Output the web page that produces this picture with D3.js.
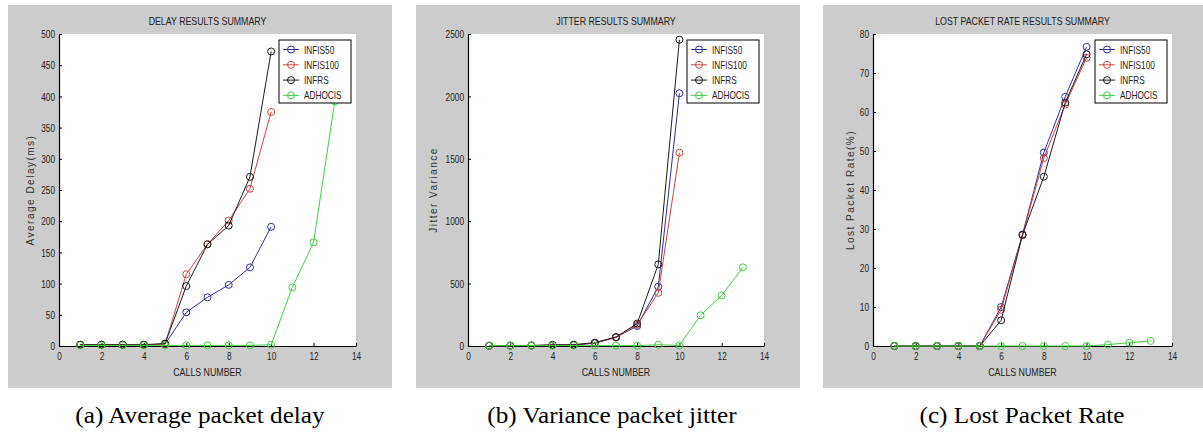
<!DOCTYPE html>
<html>
<head>
<meta charset="utf-8">
<script src="https://cdn.jsdelivr.net/npm/d3@7"></script>
<style>
  body { margin: 0; background: #fff; }
  svg { display: block; }
</style>
</head>
<body>
<div id="chart"></div>
<script>
// calls number on the x axis
const calls = [1, 2, 3, 4, 5, 6, 7, 8, 9, 10, 11, 12, 13];
const seriesNames = ['INFIS50', 'INFIS100', 'INFRS', 'ADHOCIS'];
const xTicks = [0, 2, 4, 6, 8, 10, 12, 14];

// (a) average packet delay (ms)
const delayInfis50 = [2, 2, 2, 2, 3, 54, 78, 98, 126, 191];
const delayInfis100 = [2, 2, 2, 2, 3, 115, 163, 201, 252, 375];
const delayInfrs = [2, 2, 2, 2, 4, 96, 163, 193, 271, 472];
const delayAdhocis = [1, 1, 1, 1, 1, 1, 1, 1, 1, 2, 94, 166, 392];
const delayTicks = [0, 50, 100, 150, 200, 250, 300, 350, 400, 450, 500];

// (b) jitter variance
const jitterInfis50 = [2, 3, 4, 5, 8, 22, 70, 160, 475, 2025];
const jitterInfis100 = [2, 3, 4, 6, 9, 25, 68, 170, 426, 1549];
const jitterInfrs = [2, 3, 4, 10, 10, 27, 72, 180, 654, 2454];
const jitterAdhocis = [3, 3, 3, 3, 3, 3, 3, 3, 10, 5, 246, 405, 630];
const jitterTicks = [0, 500, 1000, 1500, 2000, 2500];

// (c) lost packet rate (%)
const lostInfis50 = [0, 0, 0, 0, 0, 10.0, 28.6, 49.6, 63.9, 76.7];
const lostInfis100 = [0, 0, 0, 0, 0, 9.3, 28.4, 48.2, 61.9, 73.9];
const lostInfrs = [0, 0, 0, 0, 0, 6.6, 28.5, 43.4, 62.4, 74.8];
const lostAdhocis = [0, 0, 0, 0, 0, 0, 0, 0, 0, 0, 0.35, 0.85, 1.3];
const lostTicks = [0, 10, 20, 30, 40, 50, 60, 70, 80];

const colors = ['#2e2e9a', '#c84444', '#1a1a1a', '#44cc44'];

const panels = [
    { left: 8, plotX: [59, 356], title: 'DELAY RESULTS SUMMARY', ylabel: 'Average Delay(ms)', ylabelX: 30,
      ymax: 500, ticks: delayTicks, caption: '(a) Average packet delay', captionX: 200,
      series: [delayInfis50, delayInfis100, delayInfrs, delayAdhocis] },
    { left: 416, plotX: [468, 764], title: 'JITTER RESULTS SUMMARY', ylabel: 'Jitter Variance', ylabelX: 433,
      ymax: 2500, ticks: jitterTicks, caption: '(b) Variance packet jitter', captionX: 612,
      series: [jitterInfis50, jitterInfis100, jitterInfrs, jitterAdhocis] },
    { left: 823, plotX: [873, 1172], title: 'LOST PACKET RATE RESULTS SUMMARY', ylabel: 'Lost Packet Rate(%)', ylabelX: 850,
      ymax: 80, ticks: lostTicks, caption: '(c) Lost Packet Rate', captionX: 1022,
      series: [lostInfis50, lostInfis100, lostInfrs, lostAdhocis] }
];

const width = 1203;
const height = 432;
const panelW = 384;
const panelTop = 5;
const panelBottom = 388;
const plotTop = 34;
const plotBottom = 346;
const sans = 'Liberation Sans, Arial, sans-serif';

const svg = d3.select('#chart')
    .append('svg')
    .attr('width', width)
    .attr('height', height);

// squeeze (or stretch) text horizontally, the matlab export looks condensed
function narrow(sel, k) {
    sel.each(function() {
        const w = this.getComputedTextLength();
        d3.select(this)
            .attr('textLength', w * k)
            .attr('lengthAdjust', 'spacingAndGlyphs');
    });
}

panels.forEach(p => {
    const g = svg.append('g');

    // gray figure background
    g.append('rect')
        .attr('x', p.left)
        .attr('y', panelTop)
        .attr('width', panelW)
        .attr('height', panelBottom - panelTop)
        .attr('fill', '#cccccc');

    const x = d3.scaleLinear().domain([0, 14]).range(p.plotX);
    const y = d3.scaleLinear().domain([0, p.ymax]).range([plotBottom, plotTop]);

    // white axes area
    g.append('rect')
        .attr('x', p.plotX[0])
        .attr('y', plotTop)
        .attr('width', p.plotX[1] - p.plotX[0])
        .attr('height', plotBottom - plotTop)
        .attr('fill', '#fff');

    // axes, ticks point inward
    const xAxis = g.append('g')
        .attr('transform', `translate(0, ${plotBottom})`)
        .call(d3.axisBottom(x).tickValues(xTicks).tickSizeInner(-3).tickSizeOuter(0).tickPadding(6));
    const yAxis = g.append('g')
        .attr('transform', `translate(${p.plotX[0]}, 0)`)
        .call(d3.axisLeft(y).tickValues(p.ticks).tickFormat(d3.format('d')).tickSizeInner(-3).tickSizeOuter(0).tickPadding(4));

    [xAxis, yAxis].forEach(a => {
        a.select('.domain').attr('stroke', '#000').attr('stroke-width', 1.2);
        a.selectAll('.tick line').attr('stroke', '#000');
        a.selectAll('.tick text')
            .attr('font-family', sans)
            .attr('font-size', '11.5px')
            .attr('fill', '#222');
        narrow(a.selectAll('.tick text'), 0.72);
    });

    // title
    g.append('text')
        .attr('x', (p.plotX[0] + p.plotX[1]) / 2)
        .attr('y', 25)
        .attr('text-anchor', 'middle')
        .attr('font-family', sans)
        .attr('font-size', '11px')
        .attr('fill', '#222')
        .text(p.title)
        .call(narrow, 0.8);

    // x label
    g.append('text')
        .attr('x', (p.plotX[0] + p.plotX[1]) / 2)
        .attr('y', 376)
        .attr('text-anchor', 'middle')
        .attr('font-family', sans)
        .attr('font-size', '11px')
        .attr('fill', '#222')
        .text('CALLS NUMBER')
        .call(narrow, 0.8);

    // y label
    g.append('text')
        .attr('transform', `translate(${p.ylabelX}, ${(plotTop + plotBottom) / 2}) rotate(-90)`)
        .attr('text-anchor', 'middle')
        .attr('dominant-baseline', 'central')
        .attr('font-family', sans)
        .attr('font-size', '10px')
        .attr('letter-spacing', '1.5px')
        .attr('fill', '#333')
        .text(p.ylabel);

    // lines + circle markers
    const line = d3.line()
        .x((d, i) => x(calls[i]))
        .y(d => y(d));

    p.series.forEach((s, si) => {
        g.append('path')
            .datum(s)
            .attr('fill', 'none')
            .attr('stroke', colors[si])
            .attr('stroke-width', 1)
            .attr('d', line);

        g.selectAll(null)
            .data(s)
            .join('circle')
            .attr('cx', (d, i) => x(calls[i]))
            .attr('cy', d => y(d))
            .attr('r', 3.5)
            .attr('fill', 'none')
            .attr('stroke', colors[si])
            .attr('stroke-width', 1);
    });

    // legend box top right
    const lw = 72, lh = 63;
    const legend = g.append('g')
        .attr('transform', `translate(${p.plotX[1] - 5 - lw}, 40)`);

    legend.append('rect')
        .attr('width', lw)
        .attr('height', lh)
        .attr('fill', '#fff')
        .attr('stroke', '#000')
        .attr('stroke-width', 1);

    seriesNames.forEach((name, i) => {
        const ly = 9.5 + i * 15.3;
        legend.append('line')
            .attr('x1', 4)
            .attr('x2', 20)
            .attr('y1', ly)
            .attr('y2', ly)
            .attr('stroke', colors[i]);
        legend.append('circle')
            .attr('cx', 12)
            .attr('cy', ly)
            .attr('r', 3.5)
            .attr('fill', 'none')
            .attr('stroke', colors[i]);
        legend.append('text')
            .attr('x', 25)
            .attr('y', ly + 4)
            .attr('font-family', sans)
            .attr('font-size', '11px')
            .attr('fill', '#222')
            .text(name)
            .call(narrow, 0.75);
    });

    // caption under the panel (latex-like serif, a bit wide)
    g.append('text')
        .attr('x', p.captionX)
        .attr('y', 423)
        .attr('text-anchor', 'middle')
        .attr('font-family', 'Liberation Serif, Times New Roman, serif')
        .attr('font-size', '22.5px')
        .attr('fill', '#000')
        .text(p.caption)
        .call(narrow, 1.12);
});
</script>
</body>
</html>
